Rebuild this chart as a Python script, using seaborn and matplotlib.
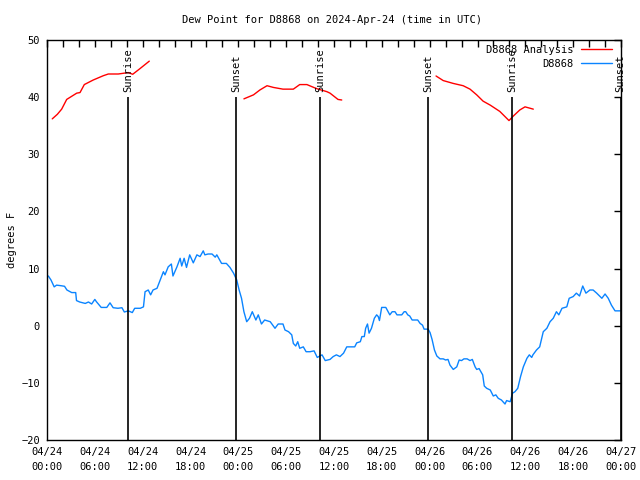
import numpy as np
import pandas as pd
import matplotlib
matplotlib.use("Agg")
import matplotlib.pyplot as plt
import matplotlib.dates as mdates
from matplotlib.lines import Line2D
import seaborn as sns

# ---------------- data ----------------
start = pd.Timestamp("2024-04-24 00:00")

obs_hours = [0.17, 0.5, 0.9, 1.2, 1.76, 2.2, 2.5, 3.1, 3.6, 3.7, 4.1, 4.8, 5.2, 5.6, 6.0, 6.2, 6.8, 7.5, 7.9,
             8.3, 8.9, 9.4, 9.7, 10.2, 10.7, 11.0, 11.7, 12.1, 12.3, 12.7, 13.0, 13.3, 13.8, 14.2, 14.6, 14.8,
             15.2, 15.6, 15.8, 16.3, 16.7, 16.9, 17.2, 17.5, 17.9, 18.35, 18.8, 19.2, 19.6, 19.8, 20.2, 20.7,
             21.1, 21.3, 21.9, 22.5, 22.95, 23.4, 23.8, 24.1, 24.4, 24.7, 25.05, 25.4, 25.75, 26.2, 26.5, 26.9,
             27.3, 28.0, 28.6, 29.0, 29.6, 29.85, 30.3, 30.7, 30.9, 31.2, 31.45, 31.7, 32.15, 32.5, 33.0, 33.5,
             33.9, 34.5, 34.9, 35.5, 35.9, 36.3, 36.75, 37.2, 37.6, 38.6, 38.85, 39.3, 39.5, 39.8, 39.97, 40.2,
             40.4, 40.7, 41.06, 41.35, 41.55, 41.7, 41.98, 42.5, 43.0, 43.3, 43.65, 43.9, 44.5, 44.8, 45.0,
             45.25, 45.5, 45.8, 46.5, 46.8, 47.1, 47.3, 47.8, 48.05, 48.3, 48.6, 48.9, 49.3, 49.7, 50.0, 50.3,
             50.55, 50.96, 51.4, 51.7, 52.0, 52.3, 52.7, 53.06, 53.35, 53.7, 53.9, 54.2, 54.65, 54.85, 55.15,
             55.6, 55.98, 56.3, 56.6, 57.0, 57.45, 57.65, 58.1, 58.4, 58.7, 59.05, 59.4, 59.75, 60.2, 60.5,
             60.8, 60.95, 61.4, 61.8, 62.25, 62.7, 63.1, 63.5, 63.9, 64.2, 64.6, 65.2, 65.5, 66.0, 66.4, 66.8,
             67.2, 67.6, 68.1, 68.5, 68.95, 69.6, 70.0, 70.4, 70.8, 71.25, 71.9]
obs_dewpt = [8.7, 8.0, 6.8, 7.1, 7.0, 6.9, 6.25, 5.8, 5.8, 4.4, 4.15, 3.9, 4.15, 3.8, 4.6, 4.2, 3.2, 3.2, 4.0,
             3.15, 3.05, 3.15, 2.4, 2.6, 2.3, 3.05, 3.05, 3.3, 5.95, 6.25, 5.4, 6.25, 6.55, 8.0, 9.45, 8.9,
             10.3, 10.8, 8.7, 10.3, 11.8, 10.45, 11.8, 10.2, 12.4, 11.0, 12.4, 12.1, 13.1, 12.4, 12.55, 12.55,
             12.0, 12.4, 10.9, 10.9, 10.2, 9.2, 8.0, 6.25, 4.8, 2.45, 0.7, 1.3, 2.45, 1.0, 1.9, 0.3,
             1.0, 0.7, -0.45, 0.3, 0.3, -0.75, -1.05, -1.6, -3.1, -3.55, -2.8, -3.95, -3.7, -4.55, -4.55, -4.4,
             -5.55, -5.1, -6.1, -5.9, -5.4, -5.1, -5.4, -4.8, -3.7, -3.7, -3.0, -2.8, -1.9, -1.9, -0.45, 0.3,
             -1.3, -0.45, 1.3, 1.9, 1.6, 0.9, 3.2, 3.2, 1.9, 2.45, 2.45, 1.9, 1.9, 2.45, 2.45,
             1.9, 1.7, 1.0, 1.0, 0.4, 0.1, -0.6, -0.6, -1.2, -2.4, -4.25, -5.3, -5.8, -5.8, -6.0, -5.9,
             -6.9, -7.65, -7.2, -6.0, -6.1, -5.8, -5.8, -6.1, -5.9, -7.2, -7.65, -7.5, -8.6, -10.55, -10.95,
             -11.25, -12.3, -12.1, -12.7, -13.0, -13.7, -13.1, -13.3, -11.8, -11.55, -10.95, -8.9, -7.2, -5.7, -5.1,
             -5.55, -5.1, -4.25, -3.7, -1.05, -0.45, 0.7, 1.3, 2.45, 1.9, 3.05, 3.3, 4.8, 5.1, 5.7, 5.2,
             6.95, 5.7, 6.25, 6.25, 5.7, 4.8, 5.55, 4.8, 3.6, 2.6, 2.6]

ana_seg1_hours = [0.66, 1.3, 1.84, 2.47, 3.73, 4.14, 4.68, 5.8, 7.06, 7.69, 8.94, 10.2, 10.75, 11.67, 12.83]
ana_seg1_dewpt = [36.2, 37.0, 37.9, 39.6, 40.7, 40.8, 42.2, 43.0, 43.75, 44.05, 44.05, 44.3, 44.0, 45.0, 46.3]
ana_seg2_hours = [24.7, 25.9, 26.7, 27.6, 28.4, 29.6, 30.9, 31.7, 32.6, 33.8, 35.1, 35.5, 36.5, 36.97]
ana_seg2_dewpt = [39.7, 40.4, 41.25, 42.0, 41.7, 41.4, 41.4, 42.2, 42.2, 41.5, 40.96, 40.7, 39.6, 39.5]
ana_seg3_hours = [48.8, 49.7, 50.96, 52.2, 53.06, 53.9, 54.7, 55.6, 56.8, 57.95, 58.5, 59.3, 59.96, 61.0]
ana_seg3_dewpt = [43.7, 42.9, 42.4, 42.0, 41.4, 40.4, 39.3, 38.6, 37.5, 35.9, 36.7, 37.75, 38.3, 37.9]

sun_event_hours = [10.16, 23.71, 34.25, 47.79, 58.33, 71.95]
sun_event_names = ["Sunrise", "Sunset", "Sunrise", "Sunset", "Sunrise", "Sunset"]
sun_line_bottom = -20
sun_line_top = 40

title_text = "Dew Point for D8868 on 2024-Apr-24 (time in UTC)"
ylabel_text = "degrees F"
label_analysis = "D8868 Analysis"
label_obs = "D8868"
y_ticks = [-20, -10, 0, 10, 20, 30, 40, 50]

# ---------------- plotting ----------------
def to_time(h):
    return start + pd.to_timedelta(np.asarray(h, dtype=float), unit="h")

sns.set_style("white")
plt.rcParams["font.family"] = ["DejaVu Sans Mono", "DejaVu Sans"]
FS = 7.5
plt.rcParams.update({
    "font.size": FS,
    "text.color": "black",
    "axes.labelcolor": "black",
    "xtick.color": "black",
    "ytick.color": "black",
})

RED = "#ff0000"
BLUE = "#0a84ff"

fig = plt.figure(figsize=(6.4, 4.8), dpi=100)
ax = fig.add_axes([47 / 640, 40 / 480, (621 - 47) / 640, 400 / 480])

obs_df = pd.DataFrame({"time": to_time(obs_hours), "dewpt": obs_dewpt})
sns.lineplot(data=obs_df, x="time", y="dewpt", color=BLUE, linewidth=1.0, ax=ax, legend=False)

for hrs, vals in [(ana_seg1_hours, ana_seg1_dewpt), (ana_seg2_hours, ana_seg2_dewpt), (ana_seg3_hours, ana_seg3_dewpt)]:
    seg_df = pd.DataFrame({"time": to_time(hrs), "dewpt": vals})
    sns.lineplot(data=seg_df, x="time", y="dewpt", color=RED, linewidth=1.0, ax=ax, legend=False)

for h, name in zip(sun_event_hours, sun_event_names):
    t = to_time([h])[0]
    ax.vlines(t, sun_line_bottom, sun_line_top, color="black", linewidth=1.2)
    ax.text(t, sun_line_top + 0.9, name, rotation=90, ha="center", va="bottom", fontsize=FS)

ax.set_xlim(start, start + pd.Timedelta(hours=72))
ax.set_ylim(-20, 50)
ax.set_yticks(y_ticks)
ax.xaxis.set_major_locator(mdates.HourLocator(byhour=[0, 6, 12, 18]))
ax.xaxis.set_minor_locator(mdates.HourLocator(interval=2))
ax.xaxis.set_major_formatter(mdates.DateFormatter("%m/%d\n%H:%M"))
ax.tick_params(axis="both", which="both", direction="in", top=True, right=True,
               length=5, width=1, color="black", labelsize=FS, pad=5, labelcolor="black")
ax.tick_params(axis="y", which="both", pad=5)
for lbl in ax.get_xticklabels():
    lbl.set_linespacing(1.6)

for sp in ax.spines.values():
    sp.set_color("black")
    sp.set_linewidth(1.0)

ax.set_xlabel("")
ax.set_ylabel(ylabel_text, fontsize=FS, labelpad=3, color="black")
fig.text(332 / 640, 1 - 20 / 480, title_text, ha="center", va="center", fontsize=FS, color="black")

handles = [Line2D([], [], color=RED, linewidth=1.0), Line2D([], [], color=BLUE, linewidth=1.0)]
ax.legend(handles, [label_analysis, label_obs], loc="upper right", bbox_to_anchor=(0.992, 0.998),
          frameon=False, markerfirst=False, handlelength=3.0, handletextpad=0.7,
          labelspacing=0.38, fontsize=FS, borderaxespad=0.0, labelcolor="black")

fig.savefig("out.png", dpi=100, facecolor="white")
